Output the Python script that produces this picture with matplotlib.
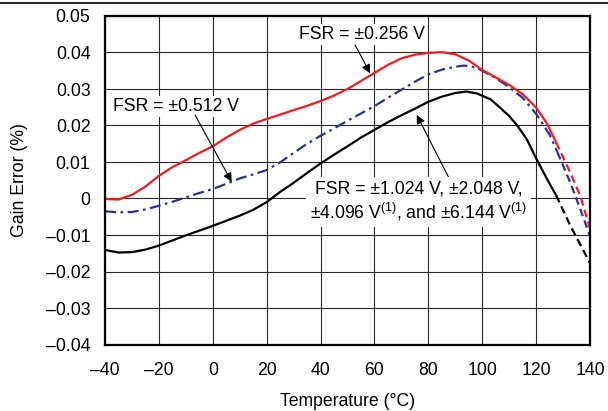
import matplotlib
matplotlib.use("Agg")
import matplotlib.pyplot as plt
import matplotlib.ticker as ticker
from matplotlib.lines import Line2D

plt.rcParams["font.family"] = ["Liberation Sans", "DejaVu Sans"]
plt.rcParams["mathtext.fontset"] = "custom"
plt.rcParams["mathtext.rm"] = "Liberation Sans"
plt.rcParams["mathtext.it"] = "Liberation Sans:italic"

# FSR = +-0.256 V (red)
temp_256 = [-40, -35, -30, -25, -20, -15, -10, -5, 0, 5, 10, 15, 20, 25, 30, 35, 40, 45,
            50, 55, 60, 65, 70, 75, 80, 85, 90, 95, 100, 105, 110, 115, 120, 124, 127.4]
gain_256 = [-0.0001, -0.0003, 0.0010, 0.0033, 0.0062, 0.0086, 0.0105, 0.0125, 0.0143,
            0.0167, 0.0188, 0.0205, 0.0218, 0.0230, 0.0242, 0.0254, 0.0267, 0.0282,
            0.0300, 0.0322, 0.0344, 0.0366, 0.0384, 0.0394, 0.0399, 0.0401, 0.0395,
            0.0378, 0.0352, 0.0332, 0.0311, 0.0286, 0.0249, 0.0206, 0.0154]
temp_256_ext = [127.4, 132.6, 136.3, 140]
gain_256_ext = [0.0154, 0.0072, 0.0009, -0.0082]

# FSR = +-0.512 V (blue)
temp_512 = [-40, -35, -30, -25, -20, -15, -10, -5, 0, 5, 10, 15, 20, 25, 30, 35, 40, 45,
            50, 55, 60, 65, 70, 75, 80, 85, 90, 93, 95, 98, 100, 105, 110, 115, 120,
            125, 127.9]
gain_512 = [-0.0035, -0.0038, -0.0037, -0.0030, -0.0020, -0.0009, 0.0003, 0.0015, 0.0026,
            0.0040, 0.0055, 0.0066, 0.0078, 0.0099, 0.0125, 0.0150, 0.0172, 0.0192,
            0.0213, 0.0233, 0.0253, 0.0276, 0.0298, 0.0320, 0.0340, 0.0353, 0.0361,
            0.0364, 0.0363, 0.0358, 0.0350, 0.0330, 0.0305, 0.0276, 0.0232, 0.0175,
            0.0127]
temp_512_ext = [127.9, 132.6, 136.3, 140]
gain_512_ext = [0.0127, 0.0045, -0.0027, -0.0103]

# FSR = +-1.024 V ... +-6.144 V (black)
temp_1024 = [-40, -35, -30, -25, -20, -15, -10, -5, 0, 5, 10, 15, 20, 25, 30, 35, 40, 45,
             50, 55, 60, 65, 70, 75, 80, 85, 90, 94, 98, 103, 106, 110, 113, 116.5, 120,
             124, 127.4]
gain_1024 = [-0.0141, -0.0148, -0.0147, -0.0140, -0.0129, -0.0115, -0.0101, -0.0088,
             -0.0075, -0.0061, -0.0047, -0.0031, -0.0010, 0.0018, 0.0043, 0.0070, 0.0096,
             0.0120, 0.0143, 0.0167, 0.0188, 0.0209, 0.0228, 0.0246, 0.0265, 0.0279,
             0.0289, 0.0293, 0.0288, 0.0272, 0.0253, 0.0226, 0.0200, 0.0163, 0.0110,
             0.0054, 0.0009]
temp_1024_ext = [127.4, 132.6, 140]
gain_1024_ext = [0.0009, -0.0073, -0.0177]

x_ticks = [-40, -20, 0, 20, 40, 60, 80, 100, 120, 140]
y_ticks = [-0.04, -0.03, -0.02, -0.01, 0, 0.01, 0.02, 0.03, 0.04, 0.05]
y_labels = ["\u22120.04", "\u22120.03", "\u22120.02", "\u22120.01", "0",
            "0.01", "0.02", "0.03", "0.04", "0.05"]

RED = "#ed1c24"
BLUE = "#2e3192"
FS = 12.7

fig = plt.figure(figsize=(6.08, 4.11), dpi=100)
ax = fig.add_axes([105 / 608, 1 - 344.5 / 411, 485 / 608, 328.5 / 411])

ax.plot(temp_256, gain_256, color=RED, lw=1.6, zorder=4)
ax.plot(temp_256_ext, gain_256_ext, color=RED, lw=1.6, ls=(0, (3.5, 2)), zorder=4)
ax.plot(temp_512, gain_512, color=BLUE, lw=1.6, ls=(0, (5, 2, 1.2, 2)), zorder=3)
ax.plot(temp_512_ext, gain_512_ext, color=BLUE, lw=1.6, ls=(0, (3.5, 2)), zorder=3)
ax.plot(temp_1024, gain_1024, color="black", lw=1.6, zorder=3)
ax.plot(temp_1024_ext, gain_1024_ext, color="black", lw=1.6, ls=(0, (3.5, 2)), zorder=3)

ax.set_xlim(-40, 140)
ax.set_ylim(-0.04, 0.05)
ax.xaxis.set_major_locator(ticker.FixedLocator(x_ticks))
ax.set_xticklabels([str(t).replace("-", "\u2013") for t in x_ticks])
ax.yaxis.set_major_locator(ticker.FixedLocator(y_ticks))
ax.set_yticklabels([s.replace("\u2212", "\u2013") for s in y_labels])
ax.tick_params(axis="x", length=0, pad=12.5, labelsize=FS)
ax.tick_params(axis="y", length=0, pad=10.5, labelsize=FS)
ax.grid(True, color="#2a2a2a", lw=0.8)
ax.set_axisbelow(True)
for sp in ax.spines.values():
    sp.set_linewidth(1.6)
    sp.set_zorder(6)

ax.set_xlabel("Temperature (\u00b0C)", fontsize=FS, labelpad=10)
fig.text(20 / 608, 1 - 180 / 411, "Gain Error (%)", rotation=90, ha="center",
         va="center", fontsize=FS)

box = dict(facecolor="white", edgecolor="none", pad=1.5)
arrow = dict(arrowstyle="-|>", color="black", lw=0.8, mutation_scale=13,
             shrinkA=0, shrinkB=0)

ax.text(55.4, 0.0449, "FSR = \u00b10.256 V", ha="center", va="center",
        fontsize=FS, bbox=box, zorder=5)
ax.annotate("", xy=(58.4, 0.0343), xytext=(52.8, 0.0421), arrowprops=arrow, zorder=5)

ax.text(-13.6, 0.0253, "FSR = \u00b10.512 V", ha="center", va="center",
        fontsize=FS, bbox=box, zorder=5)
ax.annotate("", xy=(7.0, 0.0046), xytext=(-6.6, 0.0229), arrowprops=arrow, zorder=5)

ax.text(76.3, -0.0009,
        "FSR = \u00b11.024 V, \u00b12.048 V,\n"
        "\u00b14.096 V$^{\\mathrm{(1)}}$, and \u00b16.144 V$^{\\mathrm{(1)}}$",
        ha="center", va="center", fontsize=FS, linespacing=1.15,
        bbox=dict(facecolor="white", edgecolor="none", pad=3), zorder=5)
ax.annotate("", xy=(75.7, 0.0229), xytext=(87.4, 0.0060), arrowprops=arrow, zorder=5)

fig.add_artist(Line2D([0, 1], [1 - 3 / 411, 1 - 3 / 411], color="black", lw=1.2))

fig.savefig("out.png", dpi=100)
